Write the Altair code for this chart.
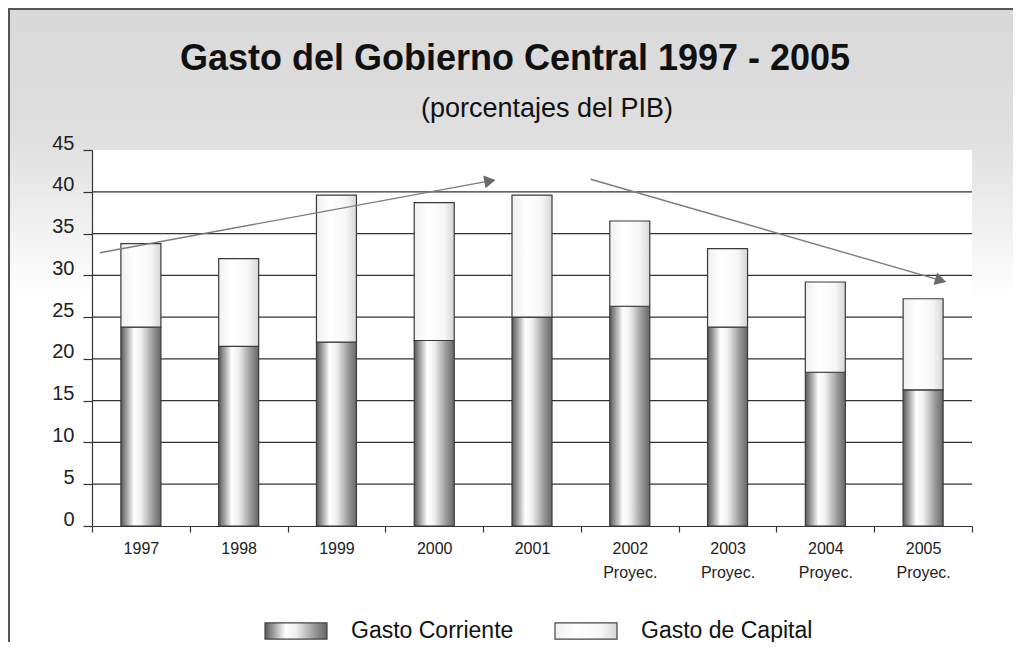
import math
import altair as alt
import pandas as pd

# ---------------- data ----------------
years = ["1997", "1998", "1999", "2000", "2001", "2002", "2003", "2004", "2005"]
x_labels = ["1997", "1998", "1999", "2000", "2001",
            "2002 Proyec.", "2003 Proyec.", "2004 Proyec.", "2005 Proyec."]
gasto_corriente = [23.8, 21.5, 22.0, 22.2, 25.0, 26.3, 23.8, 18.4, 16.3]
gasto_capital = [10.0, 10.5, 17.6, 16.5, 14.6, 10.2, 9.4, 10.8, 10.9]
series = ["Gasto Corriente", "Gasto de Capital"]
y_ticks = [0, 5, 10, 15, 20, 25, 30, 35, 40, 45]
grid_values = [5, 10, 15, 20, 25, 30, 35, 40]

# trend arrows (x in category units 0..9, y in % of GDP)
arrow_id = ["sube", "sube", "baja", "baja"]
arrow_x = [0.08, 4.07, 5.10, 8.68]
arrow_y = [32.7, 41.3, 41.5, 29.4]

title_text = "Gasto del Gobierno Central 1997 - 2005"
subtitle_text = "(porcentajes del PIB)"

# ---------------- style ----------------
FONT = "Liberation Sans, Arial, sans-serif"
NARROW = "Liberation Sans Narrow, Liberation Sans, Arial, sans-serif"
W, H = 880, 376
N = len(years)

grad_corriente = ("{gradient: 'linear', x1: 0, y1: 0, x2: 1, y2: 0, stops: ["
                  "{offset: 0, color: '#585858'}, {offset: 0.33, color: '#ffffff'},"
                  "{offset: 0.5, color: '#f0f0f0'}, {offset: 0.8, color: '#999999'},"
                  "{offset: 1, color: '#666666'}]}")
grad_capital = ("{gradient: 'linear', x1: 0, y1: 0, x2: 1, y2: 0, stops: ["
                "{offset: 0, color: '#f0f0f0'}, {offset: 0.35, color: '#ffffff'},"
                "{offset: 0.75, color: '#f6f6f6'}, {offset: 1, color: '#d6d6d6'}]}")

bars_df = pd.DataFrame({
    "etiqueta": x_labels * 2,
    "serie": [series[0]] * N + [series[1]] * N,
    "valor": gasto_corriente + gasto_capital,
    "orden": [0] * N + [1] * N,
})
grid_df = pd.DataFrame({"valor": grid_values})
arrows_df = pd.DataFrame({"flecha": arrow_id, "x": arrow_x, "valor": arrow_y})

px_x, px_y = W / N, H / 45.0
heads = []
for i in range(1, len(arrow_id)):
    if arrow_id[i] == arrow_id[i - 1] and (i == len(arrow_id) - 1 or arrow_id[i + 1] != arrow_id[i]):
        dx = (arrow_x[i] - arrow_x[i - 1]) * px_x
        dy = -(arrow_y[i] - arrow_y[i - 1]) * px_y
        heads.append({"x": arrow_x[i], "valor": arrow_y[i],
                      "angulo": math.degrees(math.atan2(dy, dx)) % 360})
heads_df = pd.DataFrame(heads)
one = pd.DataFrame({"a": [0]})

# ---------------- layers ----------------
background = alt.Chart(one).mark_rect(
    fill=alt.LinearGradient(
        gradient="linear", x1=0, y1=0, x2=0, y2=1,
        stops=[alt.GradientStop(color="#d9d9d9", offset=0),
               alt.GradientStop(color="#dfdfdf", offset=0.17),
               alt.GradientStop(color="#ffffff", offset=0.39),
               alt.GradientStop(color="#ffffff", offset=1)]),
).encode(x=alt.value(-83), x2=alt.value(W + 60), y=alt.value(-141), y2=alt.value(H + 224))

frame_left = alt.Chart(one).mark_rule(color="#555555", strokeWidth=2).encode(
    x=alt.value(-83), y=alt.value(-141), y2=alt.value(H + 130))
frame_top = alt.Chart(one).mark_rule(color="#555555", strokeWidth=2).encode(
    x=alt.value(-84), x2=alt.value(W + 60), y=alt.value(-141))

plot_bg = alt.Chart(one).mark_rect(fill="white").encode(
    x=alt.value(0), x2=alt.value(W), y=alt.value(0), y2=alt.value(H))

grid = alt.Chart(grid_df).mark_rule(color="#333333", strokeWidth=1.3).encode(
    y=alt.Y("valor:Q"))

bars = alt.Chart(bars_df).mark_bar(stroke="#3a3a3a", strokeWidth=1.2, size=40).encode(
    x=alt.X("etiqueta:N", sort=x_labels,
            scale=alt.Scale(paddingInner=0, paddingOuter=0),
            axis=alt.Axis(title=None, labelAngle=0, labelExpr="split(datum.label, ' ')",
                          tickBand="extent", tickSize=6, tickColor="#333333", tickWidth=1.2,
                          domainColor="#333333", domainWidth=1.2, grid=False,
                          labelFont=NARROW, labelFontSize=16, labelColor="#222222",
                          labelPadding=8, labelLineHeight=24, labelBaseline="top", zindex=1)),
    y=alt.Y("valor:Q", stack="zero", scale=alt.Scale(domain=[0, 45], nice=False),
            axis=alt.Axis(title=None, values=y_ticks, grid=False, tickSize=9,
                          tickColor="#333333", tickWidth=1.2, domainColor="#333333",
                          domainWidth=1.2, labelFont=FONT, labelFontSize=20,
                          labelColor="#222222", labelPadding=9, labelOffset=-7, zindex=1)),
    color=alt.Color("serie:N",
                    scale=alt.Scale(domain=series,
                                    range=[{"expr": grad_corriente}, {"expr": grad_capital}]),
                    legend=alt.Legend(orient="none", legendX=172, legendY=449,
                                      direction="horizontal", title=None,
                                      symbolType="M-1,-0.26H1V0.26H-1Z", symbolSize=3844,
                                      symbolStrokeColor="#444444", symbolStrokeWidth=1.2,
                                      symbolOpacity=1, labelFont=FONT, labelFontSize=23,
                                      labelColor="#111111", labelOffset=23, labelLimit=300,
                                      columnPadding=38, padding=0, zindex=1)),
    order=alt.Order("orden:Q"),
)

arrow_lines = alt.Chart(arrows_df).mark_line(color="#7c7c7c", strokeWidth=1.4).encode(
    x=alt.X("x:Q", scale=alt.Scale(domain=[0, N], nice=False, zero=False), axis=None),
    y=alt.Y("valor:Q"),
    detail="flecha:N",
)
arrow_heads = alt.Chart(heads_df).mark_point(
    shape="triangle-right", filled=True, size=170, color="#6a6a6a", opacity=1
).encode(
    x=alt.X("x:Q", scale=alt.Scale(domain=[0, N], nice=False, zero=False), axis=None),
    y=alt.Y("valor:Q"),
    angle=alt.Angle("angulo:Q", scale=None),
)

title = alt.Chart(one).mark_text(
    text=title_text, font=FONT, fontSize=36, fontWeight="bold",
    align="center", baseline="alphabetic", color="#111111",
).encode(x=alt.value(423), y=alt.value(-80))
subtitle = alt.Chart(one).mark_text(
    text=subtitle_text, font=FONT, fontSize=27,
    align="center", baseline="alphabetic", color="#111111",
).encode(x=alt.value(455), y=alt.value(-33))

chart = alt.layer(
    background, frame_left, frame_top, plot_bg, grid, bars,
    arrow_lines, arrow_heads, title, subtitle
).resolve_scale(x="independent").properties(
    width=W, height=H,
    padding={"left": 84, "top": 142, "right": 41, "bottom": 116},
    autosize=alt.AutoSizeParams(type="none"),
).configure_view(stroke=None).configure(background="white")

chart.save("out.html", embed_options={"renderer": "svg", "actions": False})
